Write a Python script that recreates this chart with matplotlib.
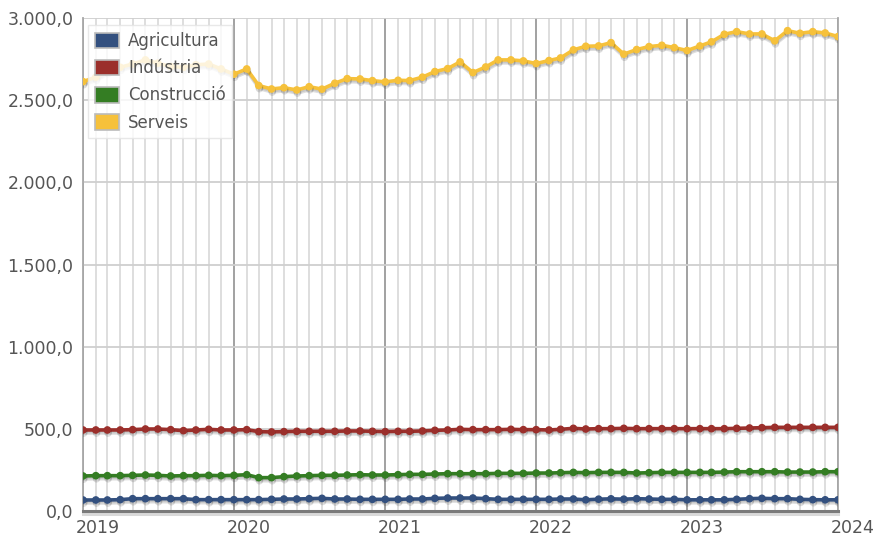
import numpy as np
import pandas as pd
import matplotlib
matplotlib.use('Agg')
import matplotlib.pyplot as plt
import matplotlib.patheffects as pe
import matplotlib.dates as mdates
import matplotlib.transforms as mtransforms
from matplotlib.patches import Patch
from matplotlib.ticker import FuncFormatter, MultipleLocator

# Monthly employment by sector (thousands), Jan 2019 - Jan 2024
dates = pd.date_range('2019-01-01', periods=61, freq='MS')

agricultura = [67, 67, 67, 69, 75, 75, 75, 75, 75, 69, 69, 69, 69, 69, 69, 71, 73, 73,
               75, 77, 73, 73, 71, 71, 71, 71, 73, 73, 77, 79, 79, 79, 75, 71, 71, 71,
               71, 71, 73, 73, 68, 72, 74, 72, 75, 73, 71, 71, 68, 68, 68, 68, 71, 75,
               77, 75, 75, 71, 69, 68, 68]

industria = [493, 493, 493, 493, 495, 499, 499, 495, 489, 493, 497, 493, 493, 495, 483,
             481, 483, 485, 485, 485, 485, 487, 487, 485, 483, 485, 485, 487, 491, 493,
             497, 495, 495, 495, 497, 495, 495, 493, 497, 503, 499, 501, 501, 503, 501,
             501, 501, 501, 501, 501, 501, 501, 503, 505, 507, 509, 509, 509, 509, 509, 509]

construccio = [213, 215, 215, 215, 217, 219, 217, 213, 215, 215, 217, 215, 217, 221, 203,
               203, 209, 213, 215, 217, 217, 219, 221, 219, 219, 221, 223, 223, 225, 227,
               227, 227, 227, 229, 229, 229, 231, 231, 233, 235, 233, 235, 235, 235, 231,
               233, 235, 235, 235, 235, 235, 237, 239, 239, 239, 239, 237, 237, 237, 239, 239]

serveis = [2613, 2640, 2680, 2700, 2720, 2745, 2725, 2705, 2700, 2715, 2720, 2690, 2658,
           2690, 2589, 2568, 2576, 2562, 2582, 2567, 2603, 2631, 2629, 2619, 2611,
           2621, 2619, 2640, 2674, 2692, 2733, 2668, 2702, 2745, 2745, 2739, 2723,
           2741, 2757, 2806, 2828, 2830, 2850, 2780, 2808, 2826, 2834, 2820, 2802,
           2830, 2855, 2901, 2917, 2903, 2903, 2861, 2923, 2907, 2917, 2909, 2887]

series = [('Agricultura', agricultura, '#33507f'),
          ('Indústria', industria, '#9b2f2b'),
          ('Construcció', construccio, '#347d23'),
          ('Serveis', serveis, '#f6c13b')]

plt.rcParams['font.family'] = 'DejaVu Sans'
fig = plt.figure(figsize=(8.75, 5.38), dpi=100)
ax = fig.add_axes([83 / 875, 27 / 538, 755 / 875, 493 / 538])

for name, vals, color in series:
    ax.plot(dates, vals, color=color, lw=2.6, marker='o', ms=4.5, zorder=3,
            path_effects=[pe.SimpleLineShadow(offset=(0.5, -2.2), shadow_color='black', alpha=0.13),
                          pe.SimpleLineShadow(offset=(0.5, -1.2), shadow_color='black', alpha=0.10),
                          pe.Normal()])

ax.set_xlim(dates[0], dates[-1])
ax.set_ylim(0, 3000)
ax.yaxis.set_major_locator(MultipleLocator(500))
ax.yaxis.set_major_formatter(FuncFormatter(
    lambda v, p: f'{v:,.1f}'.replace(',', 'X').replace('.', ',').replace('X', '.')))
ax.xaxis.set_major_locator(mdates.YearLocator())
ax.xaxis.set_minor_locator(mdates.MonthLocator())
ax.xaxis.set_major_formatter(mdates.DateFormatter('%Y'))

ax.grid(which='minor', axis='x', color='#dedede', lw=1.4, zorder=0)
ax.grid(which='major', axis='x', color='#9a9a9a', lw=1.3, zorder=0)
ax.grid(which='major', axis='y', color='#cfcfcf', lw=1.3, zorder=0)
ax.set_axisbelow(True)

ax.spines['top'].set_visible(False)
ax.spines['left'].set_color('#a8a8a8')
ax.spines['right'].set_color('#a8a8a8')
ax.spines['left'].set_linewidth(1.3)
ax.spines['right'].set_linewidth(1.3)
ax.spines['bottom'].set_color('#7a7a7a')
ax.spines['bottom'].set_linewidth(2.2)
ax.spines['bottom'].set_path_effects([pe.SimpleLineShadow(offset=(0, -2), alpha=0.15), pe.Normal()])

ax.tick_params(which='both', length=0)
ax.tick_params(axis='y', labelsize=12.5, labelcolor='#555555', pad=7)
ax.tick_params(axis='x', labelsize=12.5, labelcolor='#555555', pad=6)

# year labels sit slightly to the right of their gridline
offset = mtransforms.ScaledTranslation(15 / 100, 0, fig.dpi_scale_trans)
for lbl in ax.get_xticklabels():
    lbl.set_transform(lbl.get_transform() + offset)

handles = [Patch(facecolor=c, edgecolor='#bbbbbb', lw=1.2, label=n) for n, _, c in series]
leg = ax.legend(handles=handles, loc='upper left', bbox_to_anchor=(0.0, 0.995),
                borderaxespad=0.3, fontsize=12, frameon=True, framealpha=0.82,
                edgecolor='#e4e4e4', fancybox=False, handlelength=1.45, handleheight=1.05,
                handletextpad=0.55, labelspacing=0.55, borderpad=0.4, labelcolor='#555555')
leg.get_frame().set_linewidth(1.0)
leg.set_zorder(5)

fig.savefig('out.png', dpi=100)
